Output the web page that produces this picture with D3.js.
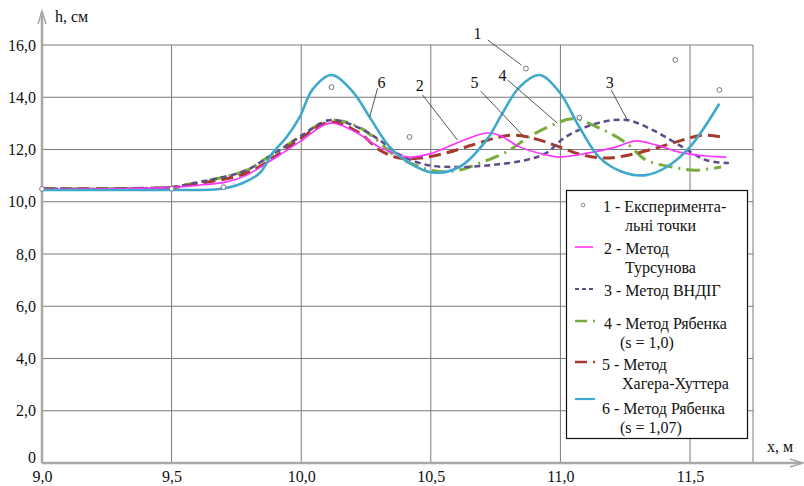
<!DOCTYPE html>
<html>
<head>
<meta charset="utf-8">
<script src="https://cdn.jsdelivr.net/npm/d3@7"></script>
</head>
<body style="margin:0;padding:0;background:#fff;">
<svg id="chart" width="804" height="486" style="display:block;"></svg>
<script>
// ---------- DATA ----------
const xTicks = [9.0, 9.5, 10.0, 10.5, 11.0, 11.5];
const xTickLabels = ["9,0", "9,5", "10,0", "10,5", "11,0", "11,5"];
const yTicks = [0, 2, 4, 6, 8, 10, 12, 14, 16];
const yTickLabels = ["0", "2,0", "4,0", "6,0", "8,0", "10,0", "12,0", "14,0", "16,0"];

// 1 - experimental points
const expX = [9.0, 9.5, 9.70, 10.117, 10.418, 10.867, 11.073, 11.443, 11.613];
const expH = [10.49, 10.5, 10.56, 14.39, 12.48, 15.1, 13.22, 15.43, 14.28];

// 2 - Tursunov method
const s2X = [9.0, 9.3, 9.5, 9.609, 9.713, 9.79, 9.867, 9.917, 9.994, 10.11, 10.21, 10.3, 10.418, 10.507, 10.61, 10.715, 10.765, 10.842, 10.946, 10.996, 11.11, 11.216, 11.29, 11.37, 11.458, 11.56, 11.64];
const s2H = [10.48, 10.5, 10.55, 10.64, 10.76, 11.02, 11.48, 11.79, 12.29, 13.01, 12.67, 12.1, 11.71, 11.87, 12.29, 12.63, 12.55, 12.1, 11.79, 11.71, 11.87, 12.1, 12.33, 12.17, 11.9, 11.75, 11.71];

// 3 - VNDIG method
const s3X = [9.0, 9.5, 9.609, 9.686, 9.79, 9.867, 9.917, 9.994, 10.11, 10.225, 10.302, 10.38, 10.484, 10.61, 10.738, 10.869, 10.946, 11.02, 11.14, 11.254, 11.355, 11.458, 11.56, 11.65];
const s3H = [10.5, 10.56, 10.76, 10.91, 11.21, 11.67, 11.98, 12.48, 13.12, 12.82, 12.36, 11.8, 11.41, 11.33, 11.41, 11.6, 11.87, 12.48, 13.0, 13.13, 12.75, 12.17, 11.6, 11.48];

// 4 - Ryabenko method (s = 1,0)
const s4X = [9.0, 9.5, 9.609, 9.686, 9.79, 9.867, 9.917, 9.994, 10.11, 10.214, 10.3, 10.35, 10.457, 10.53, 10.61, 10.688, 10.79, 10.89, 10.97, 11.05, 11.15, 11.254, 11.33, 11.43, 11.52, 11.62];
const s4H = [10.5, 10.56, 10.76, 10.91, 11.21, 11.67, 11.98, 12.48, 13.12, 12.9, 12.3, 11.85, 11.33, 11.16, 11.21, 11.48, 11.9, 12.55, 12.94, 13.18, 12.82, 12.25, 11.6, 11.33, 11.21, 11.33];

// 5 - Hager-Hutter method
const s5X = [9.0, 9.5, 9.609, 9.79, 9.917, 9.994, 10.11, 10.225, 10.302, 10.38, 10.457, 10.56, 10.66, 10.765, 10.83, 10.92, 10.996, 11.085, 11.177, 11.266, 11.37, 11.47, 11.547, 11.62];
const s5H = [10.5, 10.55, 10.7, 11.1, 11.85, 12.4, 13.05, 12.63, 11.98, 11.67, 11.67, 11.87, 12.17, 12.48, 12.55, 12.36, 12.1, 11.79, 11.67, 11.79, 12.06, 12.36, 12.55, 12.48];

// 6 - Ryabenko method (s = 1,07)
const s6X = [9.0, 9.3, 9.5, 9.686, 9.775, 9.84, 9.89, 9.944, 9.994, 10.044, 10.117, 10.2, 10.264, 10.341, 10.418, 10.507, 10.61, 10.715, 10.777, 10.842, 10.919, 10.996, 11.073, 11.15, 11.24, 11.33, 11.41, 11.5, 11.613];
const s6H = [10.45, 10.45, 10.45, 10.49, 10.72, 11.1, 11.87, 12.48, 13.24, 14.3, 14.85, 14.2, 13.24, 12.1, 11.48, 11.12, 11.33, 12.36, 13.4, 14.39, 14.85, 14.2, 12.86, 11.7, 11.14, 11.02, 11.33, 12.1, 13.75];

// callout labels: text position and leader line (data coordinates)
const calloutText = ["1", "6", "2", "5", "4", "3"];
const calloutTX = [10.68, 10.31, 10.457, 10.669, 10.777, 11.19];
const calloutTH = [16.46, 14.58, 14.47, 14.55, 14.85, 14.58];
const calloutX1 = [10.72, 10.295, 10.468, 10.692, 10.796, 11.196];
const calloutH1 = [16.19, 14.35, 14.09, 14.24, 14.66, 14.28];
const calloutX2 = [10.85, 10.264, 10.603, 10.854, 10.988, 11.258];
const calloutH2 = [15.23, 13.24, 12.36, 12.55, 13.01, 13.13];

const legendLines = [
  ["1 - Експеримента-", "льні точки"],
  ["2 - Метод", "Турсунова"],
  ["3 - Метод ВНДІГ"],
  ["4 - Метод Рябенка", "(s = 1,0)"],
  ["5 - Метод", "Хагера-Хуттера"],
  ["6 - Метод Рябенка", "(s = 1,07)"]
];

// ---------- DRAW ----------
const FONT = '"Liberation Serif"';
const svg = d3.select("#chart");
const x = d3.scaleLinear().domain([9.0, 11.743]).range([42, 753]);
const y = d3.scaleLinear().domain([0, 16]).range([463, 45]);

function serif(sel, size) {
  return sel.attr("font-family", "Liberation Serif").style("font-family", FONT)
    .attr("font-size", size).style("font-size", size + "px").attr("fill", "#111");
}

const gridColor = "#7a7a7a";
const axisColor = "#a8a8a8";

// grid
const grid = svg.append("g");
grid.selectAll("line.h").data(yTicks.filter(d => d > 0)).join("line")
  .attr("x1", x(9.0)).attr("x2", x(11.743))
  .attr("y1", d => y(d)).attr("y2", d => y(d))
  .attr("stroke", gridColor).attr("stroke-width", 1);
grid.selectAll("line.v").data(xTicks.filter(d => d > 9.0).concat([11.743])).join("line")
  .attr("x1", d => x(d)).attr("x2", d => x(d))
  .attr("y1", y(16)).attr("y2", y(0))
  .attr("stroke", gridColor).attr("stroke-width", 1);

// axes
const ax = svg.append("g").attr("stroke", axisColor).attr("stroke-width", 2.5).attr("fill", "none");
ax.append("line").attr("x1", x(9.0)).attr("x2", x(9.0)).attr("y1", y(0)).attr("y2", 12);
ax.append("line").attr("x1", x(9.0)).attr("x2", 801).attr("y1", y(0)).attr("y2", y(0));
ax.append("path").attr("stroke-width", 1.5)
  .attr("d", `M${x(9.0) - 4},${24} L${x(9.0)},${11} L${x(9.0) + 4},${24}`);
ax.append("path").attr("stroke-width", 1.5)
  .attr("d", `M${790},${y(0) - 4} L${803},${y(0)} L${790},${y(0) + 4}`);

// tick labels
const yAxis = d3.axisLeft(y).tickValues(yTicks).tickSize(0).tickPadding(6)
  .tickFormat((d, i) => yTickLabels[i]);
const gy = svg.append("g").attr("transform", `translate(${x(9.0)},0)`).call(yAxis);
gy.attr("font-family", null).attr("font-size", null);
gy.select(".domain").remove();
serif(gy.selectAll("text"), 16);
gy.selectAll("text").filter(d => d === 0).attr("dy", "-0.05em");

const xAxis = d3.axisBottom(x).tickValues(xTicks).tickSize(0).tickPadding(8)
  .tickFormat((d, i) => xTickLabels[i]);
const gx = svg.append("g").attr("transform", `translate(0,${y(0)})`).call(xAxis);
gx.attr("font-family", null).attr("font-size", null);
gx.select(".domain").remove();
serif(gx.selectAll("text"), 16);

// axis titles
serif(svg.append("text").attr("x", 55).attr("y", 22), 16).text("h, см");
serif(svg.append("text").attr("x", 767).attr("y", 452), 16).text("x, м");

// series
const line = d3.line().x(d => x(d[0])).y(d => y(d[1])).curve(d3.curveCatmullRom.alpha(0.5));
const zip = (a, b) => a.map((v, i) => [v, b[i]]);

const series = [
  { data: zip(s4X, s4H), color: "#78ad3b", width: 3, dash: "14,6,2,6" },
  { data: zip(s5X, s5H), color: "#a63a2c", width: 3, dash: "12,6" },
  { data: zip(s3X, s3H), color: "#5f4a8a", width: 2.5, dash: "6,4" },
  { data: zip(s2X, s2H), color: "#ff33ff", width: 1.6, dash: null },
  { data: zip(s6X, s6H), color: "#3fa9cb", width: 2.6, dash: null }
];
svg.append("g").selectAll("path").data(series).join("path")
  .attr("d", d => line(d.data))
  .attr("fill", "none")
  .attr("stroke", d => d.color)
  .attr("stroke-width", d => d.width)
  .attr("stroke-dasharray", d => d.dash);

// experimental points
svg.append("g").selectAll("circle").data(zip(expX, expH)).join("circle")
  .attr("cx", d => x(d[0])).attr("cy", d => y(d[1])).attr("r", 2.4)
  .attr("fill", "#fff").attr("stroke", "#777").attr("stroke-width", 1);

// callouts
const cg = svg.append("g");
cg.selectAll("line").data(calloutText).join("line")
  .attr("x1", (d, i) => x(calloutX1[i])).attr("y1", (d, i) => y(calloutH1[i]))
  .attr("x2", (d, i) => x(calloutX2[i])).attr("y2", (d, i) => y(calloutH2[i]))
  .attr("stroke", "#444").attr("stroke-width", 0.9);
serif(cg.selectAll("text").data(calloutText).join("text")
  .attr("x", (d, i) => x(calloutTX[i])).attr("y", (d, i) => y(calloutTH[i]))
  .attr("dy", "0.35em").attr("text-anchor", "middle"), 16).text(d => d);

// legend
const lg = svg.append("g");
lg.append("rect").attr("x", 566.5).attr("y", 190.5).attr("width", 181).attr("height", 248)
  .attr("fill", "#fff").attr("stroke", "#111").attr("stroke-width", 1.2);
const legBase = [212, 254, 296, 329, 370, 414];
const legX = [603, 604, 604, 604, 602, 602];
const legX2 = [625, 625, 0, 620, 622, 620];
legendLines.forEach((ls, i) => {
  serif(lg.append("text").attr("x", legX[i]).attr("y", legBase[i]), 16).text(ls[0]);
  if (ls[1]) serif(lg.append("text").attr("x", legX2[i]).attr("y", legBase[i] + 19), 16).text(ls[1]);
});
lg.append("circle").attr("cx", 583).attr("cy", 205).attr("r", 1.8).attr("fill", "#fff").attr("stroke", "#888");
lg.append("line").attr("x1", 575).attr("x2", 593).attr("y1", 247).attr("y2", 247).attr("stroke", "#ff33ff").attr("stroke-width", 1.6);
lg.append("line").attr("x1", 575).attr("x2", 594).attr("y1", 289).attr("y2", 289).attr("stroke", "#5f4a8a").attr("stroke-width", 2).attr("stroke-dasharray", "4,3");
lg.append("line").attr("x1", 575).attr("x2", 597).attr("y1", 321).attr("y2", 321).attr("stroke", "#78ad3b").attr("stroke-width", 2.5).attr("stroke-dasharray", "12,6,2,6");
lg.append("line").attr("x1", 575).attr("x2", 597).attr("y1", 362).attr("y2", 362).attr("stroke", "#a63a2c").attr("stroke-width", 2.5).attr("stroke-dasharray", "12,6,2,6");
lg.append("line").attr("x1", 575).attr("x2", 595).attr("y1", 399).attr("y2", 399).attr("stroke", "#3fa9cb").attr("stroke-width", 2.2);
</script>
</body>
</html>
